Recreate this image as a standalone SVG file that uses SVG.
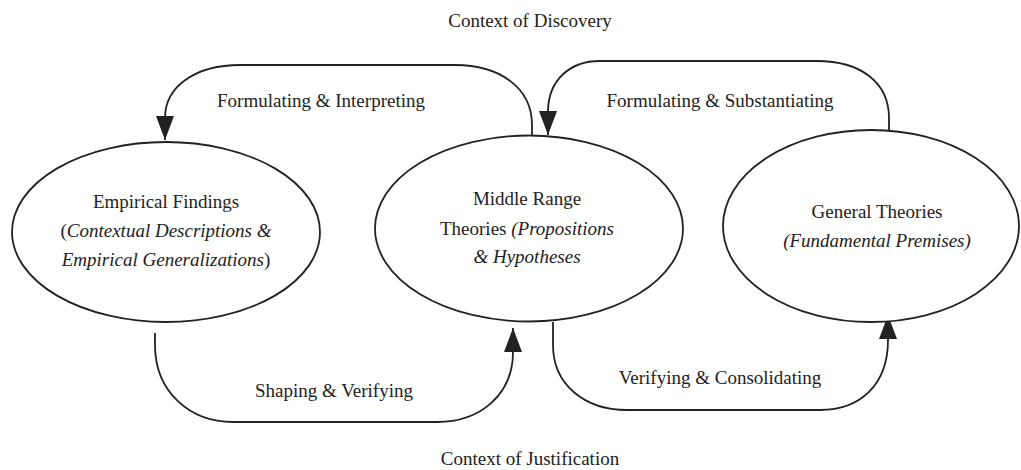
<svg xmlns="http://www.w3.org/2000/svg" width="1021" height="470" viewBox="0 0 1021 470">
<style>
text{font-family:"Liberation Serif","DejaVu Serif","Times New Roman",serif;font-size:19px;fill:#222;}
.c{text-anchor:middle;}
.i{font-style:italic;}
.node{fill:#fff;stroke:#222;stroke-width:1.8;}
.link{fill:none;stroke:#222;stroke-width:1.8;}
</style>
<defs>
<marker id="ah" viewBox="0 0 24 18" refX="24" refY="9" markerWidth="24" markerHeight="18" markerUnits="userSpaceOnUse" orient="auto">
<path d="M0,0 L24,9 L0,18 Z" fill="#222"/>
</marker>
</defs>
<rect width="1021" height="470" fill="#fff"/>
<text class="c" x="530" y="27">Context of Discovery</text>
<text class="c" x="530" y="465">Context of Justification</text>
<g id="connectors">
<path class="link" d="M532,135 L532,125 C532,88 500,65 455,65 L240,65 C196,65 165,86 165,118 L165,140" marker-end="url(#ah)"/>
<path class="link" d="M889,130 L889,118 C889,82 860,61 817,61 L600,61 C570,61 548,80 548,112 L548,135" marker-end="url(#ah)"/>
<path class="link" d="M155,333 L155,345 C155,392 190,422 233,422 L437,422 C480,422 513,395 513,352 L513,328" marker-end="url(#ah)"/>
<path class="link" d="M553,322 L553,345 C553,385 585,410 627,410 L820,410 C860,410 888,385 888,340 L888,315" marker-end="url(#ah)"/>
<text class="c" x="321" y="107">Formulating &amp; Interpreting</text>
<text class="c" x="720" y="107">Formulating &amp; Substantiating</text>
<text class="c" x="334" y="397">Shaping &amp; Verifying</text>
<text class="c" x="720" y="384">Verifying &amp; Consolidating</text>
</g>
<g id="empirical">
<ellipse class="node" cx="166" cy="232" rx="154" ry="90"/>
<text class="c" x="166" y="208">Empirical Findings</text>
<text class="c" x="166" y="237">(<tspan class="i">Contextual Descriptions &amp;</tspan></text>
<text class="c" x="166" y="266"><tspan class="i">Empirical Generalizations</tspan>)</text>
</g>
<g id="middle">
<ellipse class="node" cx="529" cy="228.5" rx="154" ry="93"/>
<text class="c" x="527" y="205">Middle Range</text>
<text class="c" x="527" y="235">Theories <tspan class="i">(Propositions</tspan></text>
<text class="c i" x="527" y="263">&amp; Hypotheses</text>
</g>
<g id="general">
<ellipse class="node" cx="871" cy="226" rx="148" ry="96"/>
<text class="c" x="877" y="218">General Theories</text>
<text class="c i" x="877" y="247">(Fundamental Premises)</text>
</g>
</svg>
